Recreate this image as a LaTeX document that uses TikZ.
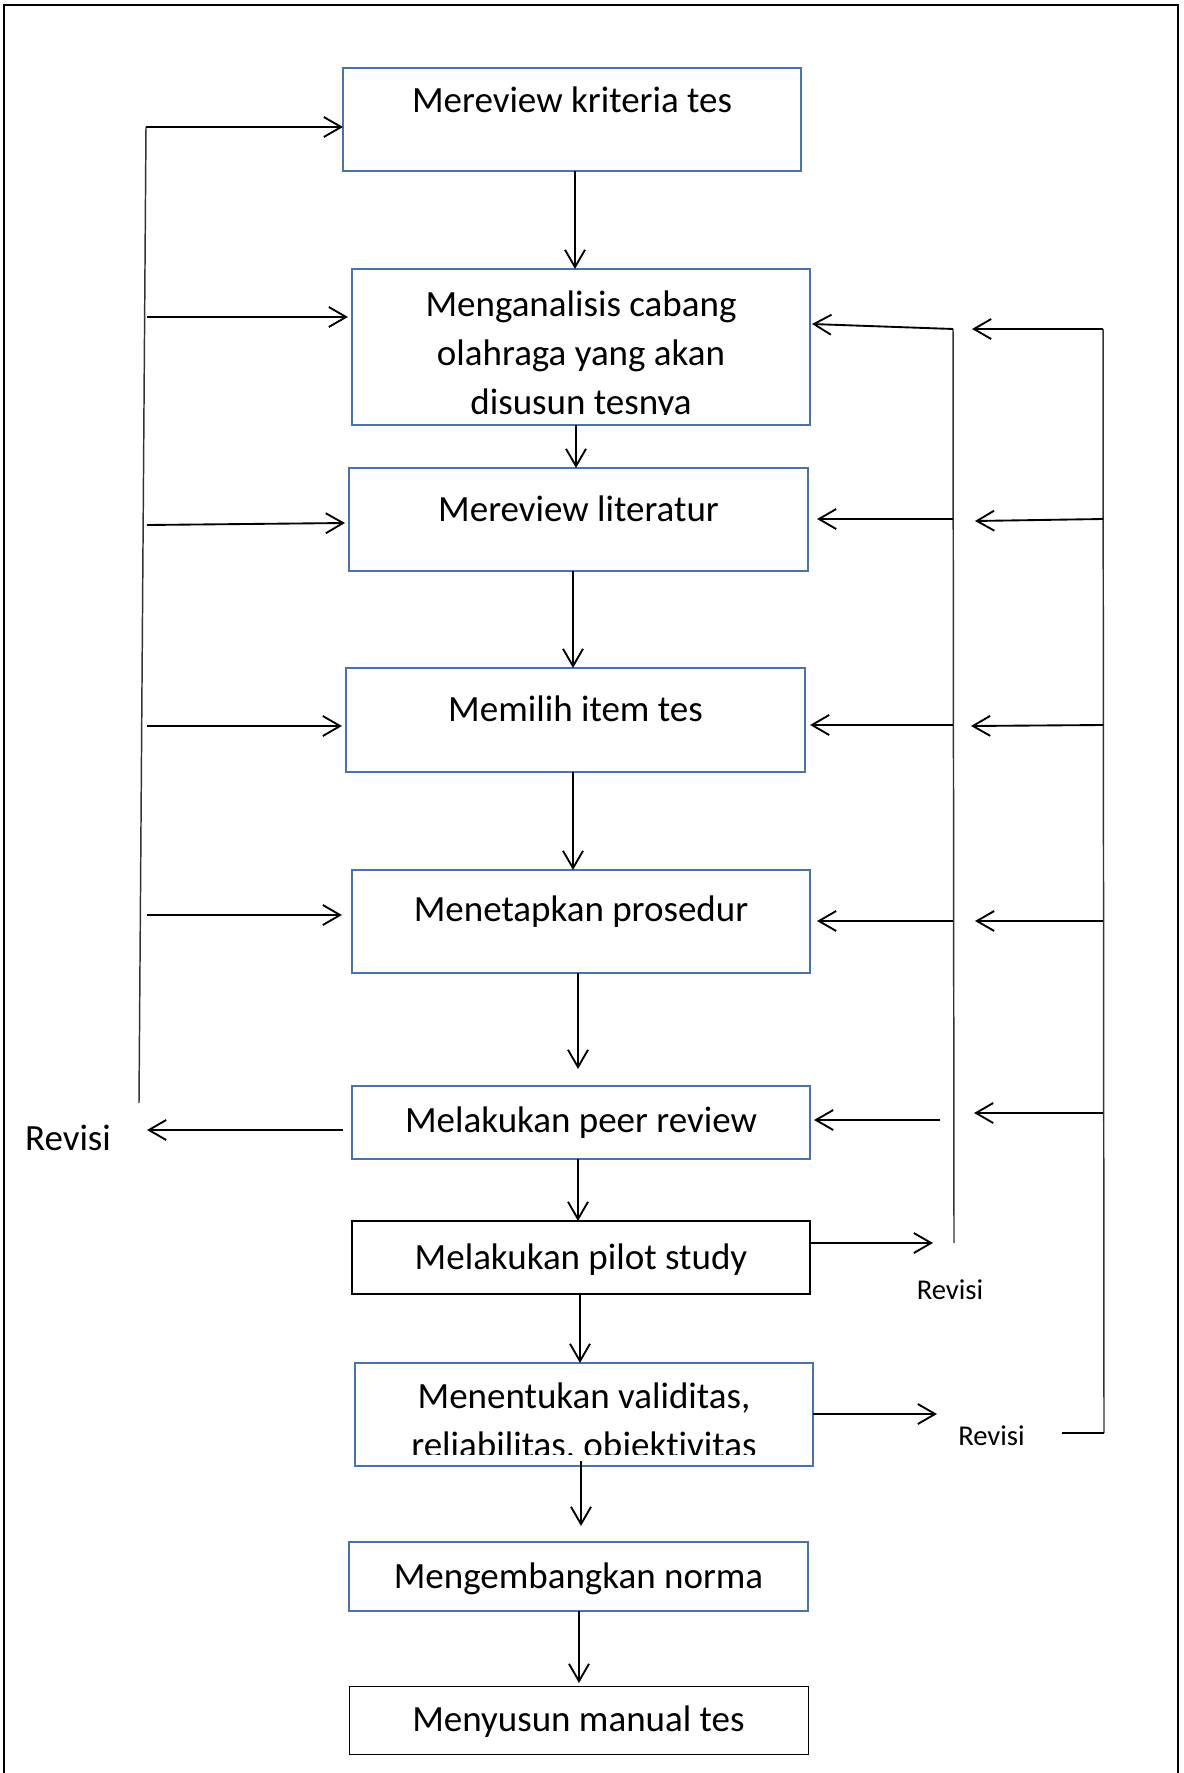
\documentclass[tikz,border=0pt]{standalone}
\usepackage{fontspec}
\setmainfont{Carlito}[Ligatures=NoCommon]
\usetikzlibrary{arrows.meta,calc}
\definecolor{boxblue}{RGB}{74,116,168}
\begin{document}
\begin{tikzpicture}[x=0.75pt,y=-0.75pt,
  box/.style={draw=boxblue,line width=1.5pt,inner sep=0pt,outer sep=0pt,rectangle},
  blackbox/.style={draw=black,inner sep=0pt,outer sep=0pt,rectangle},
  lbl/.style={inner sep=0pt,anchor=base,font=\fontsize{27.75}{33}\selectfont},
  small/.style={inner sep=0pt,anchor=base,font=\fontsize{21.5}{26}\selectfont},
  arr/.style={line width=1.4pt,-{Straight Barb[length=13pt,width=15pt,line width=1.4pt]}},
  fb/.style={line width=1.1pt,black!80},
  frame/.style={line width=1.9pt}]
\useasboundingbox (0,0) rectangle (1183,1773);
% outer frame
\draw[frame] (4,1773) -- (4,5) -- (1178,5) -- (1178,1773);

% boxes
\node[box,minimum width=343.5pt,minimum height=77.25pt] (b1) at (572,119.5) {};
\node[lbl] (t1) at (572,113) {Mereview kriteria tes};

\node[box,minimum width=343.5pt,minimum height=117pt] (b2) at (581,347) {};
\begin{scope}
\clip ($(b2.north west)+(2,2)$) rectangle ($(b2.south east)+(-2,-11)$);
\node[lbl] (t2a) at (581,316) {Menganalisis cabang};
\node[lbl] (t2b) at (581,365) {olahraga yang akan};
\node[lbl] (t2c) at (581,414) {disusun tesnya};
\end{scope}

\node[box,minimum width=344.25pt,minimum height=77.25pt] (b3) at (578.5,519.5) {};
\node[lbl] (t3) at (578.5,521) {Mereview literatur};

\node[box,minimum width=344.25pt,minimum height=78pt] (b4) at (575.5,720) {};
\node[lbl] (t4) at (575.5,721) {Memilih item tes};

\node[box,minimum width=343.5pt,minimum height=77.25pt] (b5) at (581,921.5) {};
\node[lbl] (t5) at (581,921) {Menetapkan prosedur};

\node[box,minimum width=343.5pt,minimum height=54.75pt] (b6) at (581,1122.5) {};
\node[lbl] (t6) at (581,1132) {Melakukan peer review};

\node[blackbox,line width=1.8pt,minimum width=343.5pt,minimum height=54.75pt] (b7) at (581,1257.5) {};
\node[lbl] (t7) at (581,1269) {Melakukan pilot study};

\node[box,minimum width=343.5pt,minimum height=77.25pt] (b8) at (584,1414.5) {};
\begin{scope}
\clip ($(b8.north west)+(2,2)$) rectangle ($(b8.south east)+(-2,-12)$);
\node[lbl] (t8a) at (584,1408) {Menentukan validitas,};
\node[lbl] (t8b) at (584,1457) {reliabilitas, objektivitas};
\end{scope}

\node[box,minimum width=344.25pt,minimum height=51.75pt] (b9) at (578.5,1576.5) {};
\node[lbl] (t9) at (578.5,1588) {Mengembangkan norma};

\node[blackbox,line width=0.7pt,minimum width=344.25pt,minimum height=51pt] (b10) at (578.5,1720) {};
\node[lbl] (t10) at (578.5,1731) {Menyusun manual tes};

% vertical main arrows
\coordinate (c12) at (575,0);
\coordinate (c23) at (576,0);
\coordinate (c34) at (573,0);
\coordinate (c45) at (573,0);
\coordinate (c56) at (578,0);
\coordinate (c67) at (578,0);
\coordinate (c78) at (580,0);
\coordinate (c89) at (581,0);
\coordinate (c910) at (579,0);
\draw[arr] (c12 |- b1.south) -- (c12 |- b2.north);
\draw[arr] (c23 |- b2.south) -- (c23 |- b3.north);
\draw[arr] (c34 |- b3.south) -- (c34 |- b4.north);
\draw[arr] (c45 |- b4.south) -- (c45 |- b5.north);
\draw[arr] (c56 |- b5.south) -- ($(c56 |- b6.north)+(0,-17)$);
\draw[arr] (c67 |- b6.south) -- (c67 |- b7.north);
\draw[arr] (c78 |- b7.south) -- (c78 |- b8.north);
\draw[arr] ($(c89 |- b8.south)+(0,-5)$) -- ($(c89 |- b9.north)+(0,-16)$);
\draw[arr] (c910 |- b9.south) -- ($(c910 |- b10.north)+(0,-3)$);

% left feedback loop
\coordinate (LT) at (146,127);
\coordinate (LB) at (139,1103);
\draw[fb] (LT) -- (LB);
\coordinate (l1) at (146,127);
\coordinate (l2) at (147,317);
\coordinate (l3) at (147,525);
\coordinate (l4) at (147,726);
\coordinate (l5) at (147,915);
\draw[arr] (l1) -- (l1 -| b1.west);
\draw[arr] (l2) -- ($(l2 -| b2.west)+(-4,0)$);
\draw[arr] (l3) -- ($(l3 -| b3.west)+(-4,-2)$);
\draw[arr] (l4) -- ($(l4 -| b4.west)+(-4,0)$);
\draw[arr] (l5) -- ($(l5 -| b5.west)+(-10,0)$);
\node[lbl] (rv1) at (68,1150) {Revisi};
\coordinate (rv1tip) at (147,1130);
\draw[arr] ($(rv1tip -| b6.west)+(-9,0)$) -- (rv1tip);

% middle right feedback loop
\coordinate (MT) at (953,329);
\coordinate (MB) at (954,1243);
\draw[fb] (MT) -- (MB);
\coordinate (m2) at (953,329);
\coordinate (m3) at (953,519);
\coordinate (m4) at (953,725);
\coordinate (m5) at (953,921);
\coordinate (m6) at (940,1120);
\draw[arr] (m2) -- ($(m2 -| b2.east)+(2,-5)$);
\draw[arr] (m3) -- ($(m3 -| b3.east)+(9,0)$);
\draw[arr] (m4) -- ($(m4 -| b4.east)+(5,0)$);
\draw[arr] (m5) -- ($(m5 -| b5.east)+(7,0)$);
\draw[arr] (m6) -- ($(m6 -| b6.east)+(4,0)$);
\coordinate (r1tip) at (933,1243);
\draw[arr] (r1tip -| b7.east) -- (r1tip);
\node[small] (rv2) at (950,1299) {Revisi};

% outer right feedback loop
\coordinate (OT) at (1103,329);
\coordinate (OB) at (1104,1433);
\draw[fb] (OT) -- (OB);
\coordinate (OL) at (1062,1433);
\draw[line width=1.4pt] (OL) -- (OB);
\coordinate (o2) at (1103,329);  \coordinate (q2) at (972,329);
\coordinate (o3) at (1103,519);  \coordinate (q3) at (975,521);
\coordinate (o4) at (1103,725);  \coordinate (q4) at (971,726);
\coordinate (o5) at (1103,921);  \coordinate (q5) at (975,921);
\coordinate (o6) at (1103,1113); \coordinate (q6) at (974,1113);
\draw[arr] (o2) -- (q2);
\draw[arr] (o3) -- (q3);
\draw[arr] (o4) -- (q4);
\draw[arr] (o5) -- (q5);
\draw[arr] (o6) -- (q6);
\coordinate (r2tip) at (937,1414);
\draw[arr] (r2tip -| b8.east) -- (r2tip);
\node[small] (rv3) at (991.5,1445) {Revisi};
\end{tikzpicture}
\end{document}
